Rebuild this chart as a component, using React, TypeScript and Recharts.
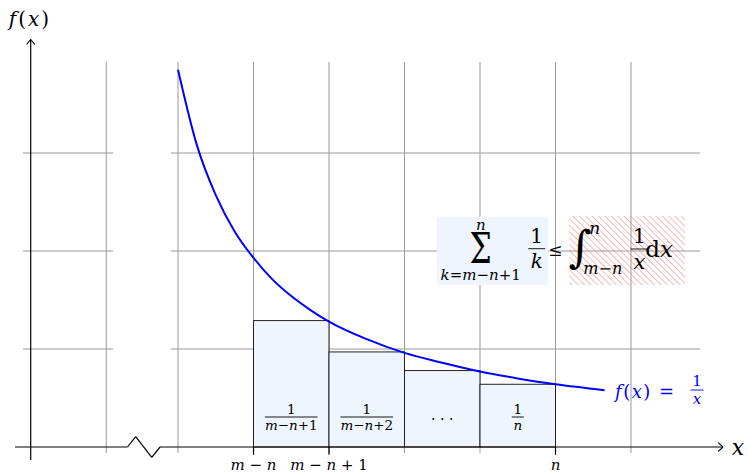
import React from "react";
import {
  ComposedChart,
  XAxis,
  YAxis,
  Line,
  ReferenceLine,
  ReferenceArea,
  ReferenceDot,
} from "recharts";

// curve f(x) = 1/x (grid units)
const curveX = [2, 2.25, 2.5, 2.75, 3, 3.25, 3.5, 3.75, 4, 4.5, 5, 5.5, 6, 6.5, 7, 7.65];
const curveY = [3.85, 3.08, 2.57, 2.2, 1.93, 1.71, 1.54, 1.4, 1.28, 1.1, 0.96, 0.86, 0.77, 0.7, 0.64, 0.58];

// rectangles under the curve
const barStarts = [3, 4, 5, 6];
const barHeights = [1.29, 0.97, 0.78, 0.64];
const barNums = ["1", "1", "", "1"];
const barDens = ["m−n+1", "m−n+2", "", "n"];

// x tick labels
const tickX = [3, 4, 7];
const tickLabels = ["m − n", "m − n + 1", "n"];

// grid lines
const gridX = [1.05, 2, 3, 4, 5, 6, 7, 8];
const gridY = [1, 2, 3];

const curve = curveX.map((u, i) => ({ u, v: curveY[i] }));

const FONT = "'DejaVu Serif', serif";
const BLUE = "#0000ff";
const GRID = "#999999";
const FILL = "#eef5fc";

function MathText({ x, y, text, size, fill = "#000", anchor = "middle", spacing = 0 }: any) {
  const parts: string[] = text.match(/[A-Za-z]+|[^A-Za-z]+/g) || [];
  return (
    <text
      x={x}
      y={y}
      fontSize={size}
      fill={fill}
      textAnchor={anchor}
      dominantBaseline="central"
      fontFamily={FONT}
      letterSpacing={spacing}
    >
      {parts.map((p, i) => (
        <tspan key={i} fontStyle={/[A-Za-z]/.test(p) ? "italic" : "normal"}>
          {p}
        </tspan>
      ))}
    </text>
  );
}

function Frac({ cx, cy, num, den, size, fill = "#000", gap = 0.6 }: any) {
  const w = den.length * size * 0.75 + 2;
  return (
    <g>
      <MathText x={cx} y={cy - size * gap} text={num} size={size} fill={fill} />
      <line x1={cx - w / 2} x2={cx + w / 2} y1={cy} y2={cy} stroke={fill} strokeWidth={0.9} />
      <MathText x={cx} y={cy + size * gap} text={den} size={size} fill={fill} />
    </g>
  );
}

const barShape = (i: number) => (p: any) => {
  const cx = p.x + p.width / 2;
  const cy = p.y + p.height - 30;
  return (
    <g>
      <rect x={p.x} y={p.y} width={p.width} height={p.height} fill={FILL} stroke="#222" strokeWidth={1} />
      {barNums[i] ? (
        <Frac cx={cx} cy={cy} num={barNums[i]} den={barDens[i]} size={13.5} />
      ) : (
        <text x={cx} y={cy + 2} fontSize={14} textAnchor="middle" dominantBaseline="central" fontFamily={FONT}>
          · · ·
        </text>
      )}
    </g>
  );
};

const sumShape = (p: any) => {
  const x = p.x;
  const y = p.y;
  return (
    <g>
      <rect x={x} y={y} width={p.width} height={p.height} fill={FILL} />
      <MathText x={x + 44} y={y + 8} text="n" size={15} />
      <text
        x={0}
        y={0}
        fontSize={42}
        fontFamily={FONT}
        textAnchor="middle"
        dominantBaseline="central"
        transform={`translate(${x + 44} ${y + 32}) scale(0.75 1)`}
      >
        Σ
      </text>
      <MathText x={x + 44} y={y + 58} text="k=m−n+1" size={15} />
      <Frac cx={x + 100} cy={y + 32} num="1" den="k" size={20} gap={0.62} />
    </g>
  );
};

const intShape = (p: any) => {
  const x = p.x;
  const y = p.y;
  return (
    <g>
      <rect x={x} y={y} width={p.width} height={p.height} fill="url(#hatch)" />
      <text x={x - 14} y={y + 34} fontSize={17} textAnchor="middle" dominantBaseline="central" fontFamily={FONT}>
        ≤
      </text>
      <text x={x + 11} y={y + 30} fontSize={44} textAnchor="middle" dominantBaseline="central" fontFamily={FONT}>
        ∫
      </text>
      <MathText x={x + 20} y={y + 12} text="n" size={17} anchor="start" />
      <MathText x={x + 14} y={y + 52} text="m−n" size={16} anchor="start" />
      <Frac cx={x + 70} cy={y + 33} num="1" den="x" size={21} gap={0.62} />
      <text x={x + 76} y={y + 33} fontSize={23} dominantBaseline="central" fontFamily={FONT}>
        d<tspan fontStyle="italic">x</tspan>
      </text>
    </g>
  );
};

const seg = (x1: number, y1: number, x2: number, y2: number) => [
  { x: x1, y: y1 },
  { x: x2, y: y2 },
];

export default function App() {
  return (
    <div style={{ position: "absolute", left: 0, top: 0, background: "#fff" }}>
      <ComposedChart width={748} height={473} margin={{ top: 6, right: 3.75, bottom: 1.5, left: 4.35 }}>
        <defs>
          <pattern id="hatch" patternUnits="userSpaceOnUse" width={4.5} height={4.5} patternTransform="rotate(-45)">
            <line x1={0} y1={0} x2={0} y2={4.5} stroke="#ee8080" strokeWidth={1.1} />
          </pattern>
        </defs>
        <XAxis type="number" dataKey="u" domain={[-0.3, 9.5]} allowDataOverflow hide />
        <YAxis type="number" dataKey="v" domain={[-0.25, 4.5]} allowDataOverflow hide />

        {gridY.map((v) => (
          <ReferenceLine key={"hl" + v} segment={seg(-0.053, v, 1.139, v)} stroke={GRID} strokeWidth={1} ifOverflow="visible" zIndex={10} />
        ))}
        {gridY.map((v) => (
          <ReferenceLine key={"hr" + v} segment={seg(1.907, v, 8.914, v)} stroke={GRID} strokeWidth={1} ifOverflow="visible" zIndex={10} />
        ))}
        {gridX.map((u) => (
          <ReferenceLine key={"v" + u} segment={seg(u, -0.061, u, 3.929)} stroke={GRID} strokeWidth={1} ifOverflow="visible" zIndex={10} />
        ))}

        {barStarts.map((s, i) => (
          <ReferenceArea
            key={"b" + i}
            x1={s}
            x2={s + 1}
            y1={0}
            y2={barHeights[i]}
            ifOverflow="visible"
            shape={barShape(i)}
            zIndex={20}
          />
        ))}

        <Line
          data={curve}
          dataKey="v"
          type="monotone"
          stroke={BLUE}
          strokeWidth={2}
          dot={false}
          activeDot={false}
          isAnimationActive={false}
          zIndex={30}
        />

        {/* x axis with break */}
        <ReferenceLine segment={seg(-0.159, 0, 1.331, 0)} stroke="#000" strokeWidth={1.2} ifOverflow="visible" zIndex={40} />
        <ReferenceLine segment={seg(1.331, 0, 1.44, 0.107)} stroke="#000" strokeWidth={1.2} ifOverflow="visible" zIndex={40} />
        <ReferenceLine segment={seg(1.44, 0.107, 1.652, -0.105)} stroke="#000" strokeWidth={1.2} ifOverflow="visible" zIndex={40} />
        <ReferenceLine segment={seg(1.652, -0.105, 1.762, 0)} stroke="#000" strokeWidth={1.2} ifOverflow="visible" zIndex={40} />
        <ReferenceLine segment={seg(1.762, 0, 9.219, 0)} stroke="#000" strokeWidth={1.2} ifOverflow="visible" zIndex={40} />
        <ReferenceLine segment={seg(9.155, 0.045, 9.219, 0)} stroke="#000" strokeWidth={1.1} ifOverflow="visible" zIndex={40} />
        <ReferenceLine segment={seg(9.155, -0.045, 9.219, 0)} stroke="#000" strokeWidth={1.1} ifOverflow="visible" zIndex={40} />
        {/* y axis */}
        <ReferenceLine segment={seg(0.049, -0.133, 0.049, 4.158)} stroke="#000" strokeWidth={1.2} ifOverflow="visible" zIndex={40} />
        <ReferenceLine segment={seg(-0.004, 4.108, 0.049, 4.158)} stroke="#000" strokeWidth={1.1} ifOverflow="visible" zIndex={40} />
        <ReferenceLine segment={seg(0.102, 4.108, 0.049, 4.158)} stroke="#000" strokeWidth={1.1} ifOverflow="visible" zIndex={40} />
        {tickX.map((u) => (
          <ReferenceLine key={"t" + u} segment={seg(u, 0, u, -0.08)} stroke="#000" strokeWidth={1.2} ifOverflow="visible" zIndex={40} />
        ))}

        <ReferenceArea x1={5.427} x2={6.905} y1={1.653} y2={2.35} ifOverflow="visible" shape={sumShape} zIndex={50} />
        <ReferenceArea x1={7.183} x2={8.715} y1={1.653} y2={2.357} ifOverflow="visible" shape={intShape} zIndex={50} />

        {tickX.map((u, i) => (
          <ReferenceDot
            key={"tl" + u}
            x={u}
            y={-0.18}
            r={0}
            ifOverflow="visible"
            zIndex={60}
            shape={(p: any) => <MathText x={p.cx} y={p.cy} text={tickLabels[i]} size={15} />}
          />
        ))}
        <ReferenceDot
          x={0.04}
          y={4.367}
          r={0}
          ifOverflow="visible"
          zIndex={60}
          shape={(p: any) => <MathText x={p.cx} y={p.cy} text="f(x)" size={20} spacing={2} />}
        />
        <ReferenceDot
          x={9.417}
          y={0}
          r={0}
          ifOverflow="visible"
          zIndex={60}
          shape={(p: any) => <MathText x={p.cx} y={p.cy} text="x" size={22} />}
        />
        <ReferenceDot
          x={7.788}
          y={0.571}
          r={0}
          ifOverflow="visible"
          zIndex={60}
          shape={(p: any) => (
            <g>
              <MathText x={p.cx} y={p.cy} text="f(x) =" size={18} fill={BLUE} anchor="start" spacing={1.5} />
              <Frac cx={p.cx + 82} cy={p.cy - 1} num="1" den="x" size={15} fill={BLUE} gap={0.62} />
            </g>
          )}
        />
      </ComposedChart>
    </div>
  );
}
